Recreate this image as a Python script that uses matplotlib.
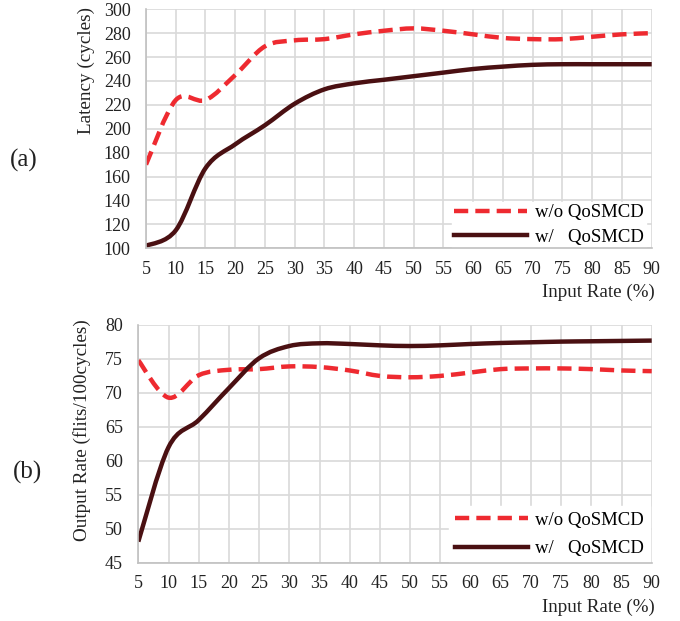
import numpy as np
import matplotlib.pyplot as plt
from matplotlib.path import Path
from matplotlib.patches import PathPatch
from matplotlib.lines import Line2D

plt.rcParams['font.family'] = ['Liberation Serif', 'DejaVu Serif']

rate = [5, 10, 15, 20, 25, 30, 35, 40, 45, 50, 55, 60, 65, 70, 75, 80, 85, 90]

lat_wo = [170, 224, 224, 245, 269, 274, 275, 279, 282, 284, 282, 279, 276, 275, 275, 277, 279, 280]
lat_w = [102, 115, 167, 187, 203, 221, 233, 238, 241, 244, 247, 250, 252, 253.5, 254, 254, 254, 254]

out_wo = [74.8, 69.3, 72.6, 73.4, 73.5, 73.9, 73.8, 73.3, 72.5, 72.3, 72.5, 73.0, 73.5, 73.6, 73.6, 73.5, 73.3, 73.2]
out_w = [48.1, 62.0, 66.0, 70.7, 75.1, 76.9, 77.3, 77.2, 77.0, 76.9, 77.0, 77.2, 77.35, 77.45, 77.55, 77.6, 77.65, 77.7]

red = '#ee2a30'
brown = '#4a1012'
grid_c = '#d9d9d9'


def smooth_path(x, y):
    # Catmull-Rom style bezier, like the smoothed lines in Excel
    p = np.column_stack([x, y]).astype(float)
    n = len(p)
    verts = [p[0]]
    codes = [Path.MOVETO]
    for i in range(n - 1):
        p0 = p[i - 1] if i > 0 else p[i]
        p3 = p[i + 2] if i + 2 < n else p[i + 1]
        c1 = p[i] + (p[i + 1] - p0) / 6
        c2 = p[i + 1] - (p3 - p[i]) / 6
        verts += [c1, c2, p[i + 1]]
        codes += [Path.CURVE4] * 3
    return Path(verts, codes)


def draw(ax, y_wo, y_w, ylim, yticks, spacing, bpad, lx):
    ax.add_patch(PathPatch(smooth_path(rate, y_wo), fill=False, edgecolor=red,
                           lw=3.2, linestyle=(0, (3.2, 1.6)), zorder=3))
    ax.add_patch(PathPatch(smooth_path(rate, y_w), fill=False, edgecolor=brown,
                           lw=3.2, zorder=3))
    ax.set_xlim(5, 90)
    ax.set_ylim(*ylim)
    ax.set_xticks(rate)
    ax.set_yticks(yticks)
    ax.grid(True, color=grid_c, lw=1.2)
    ax.set_axisbelow(True)
    for s in ['top', 'right']:
        ax.spines[s].set_visible(False)
    for s in ['left', 'bottom']:
        ax.spines[s].set_color('#c0c0c0')
        ax.spines[s].set_linewidth(1.2)
        ax.spines[s].set_zorder(6)
    ax.tick_params(length=0, labelsize=13, colors='#222222')
    ax.tick_params(axis='y', pad=11)
    ax.tick_params(axis='x', pad=9)
    h = [Line2D([], [], color=red, lw=3.2, linestyle=(0, (3.2, 1.6))),
         Line2D([], [], color=brown, lw=3.2)]
    leg = ax.legend(h, ['w/o QoSMCD', 'w/   QoSMCD'], loc='lower right',
                    bbox_to_anchor=(lx, 0.0), frameon=True, fontsize=13.5,
                    handlelength=3.9, handletextpad=0.4, labelspacing=spacing,
                    borderpad=bpad, borderaxespad=0.0)
    leg.get_frame().set_edgecolor('white')
    leg.get_frame().set_facecolor('white')
    leg.get_frame().set_alpha(1)
    leg.get_frame().set_boxstyle('square', pad=0)
    leg.set_zorder(5)


fig = plt.figure(figsize=(6.8, 6.21), dpi=100)
ax1 = fig.add_axes([0.2147, 0.6002, 0.7437, 0.3849])
ax2 = fig.add_axes([0.2034, 0.0939, 0.7550, 0.3828])

draw(ax1, lat_wo, lat_w, (100, 300), np.arange(100, 301, 20), 0.4, 0.12, 0.988)
draw(ax2, out_wo, out_w, (45, 80), np.arange(45, 81, 5), 0.6, 0.3, 0.996)

fig.text(86 / 680, 1 - 70 / 621, 'Latency (cycles)', rotation=90,
         ha='center', va='center', fontsize=13.8, color='#222222')
fig.text(82 / 680, 1 - 430 / 621, 'Output Rate (flits/100cycles)', rotation=90,
         ha='center', va='center', fontsize=13.8, color='#222222')
fig.text(655 / 680, 1 - 292 / 621, 'Input Rate (%)', ha='right', va='center',
         fontsize=13.7, color='#222222')
fig.text(655 / 680, 1 - 607 / 621, 'Input Rate (%)', ha='right', va='center',
         fontsize=13.7, color='#222222')
fig.text(24 / 680, 1 - 160 / 621, '(a)', ha='center', va='center', fontsize=18,
         color='#222222')
fig.text(27 / 680, 1 - 472 / 621, '(b)', ha='center', va='center', fontsize=18,
         color='#222222')

plt.savefig('out.png', dpi=100)
